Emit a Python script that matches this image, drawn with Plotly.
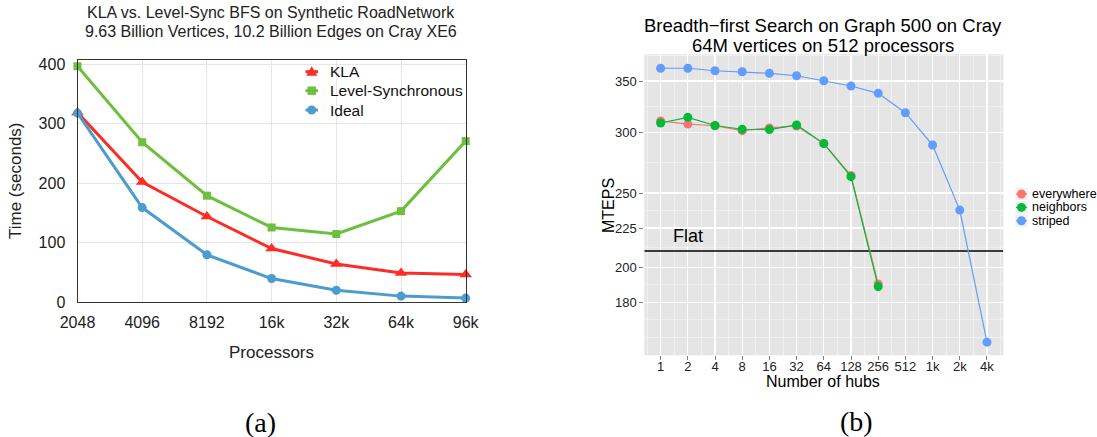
import math
import plotly.graph_objects as go

# ---------------- data: panel (a) ----------------
processors = ["2048", "4096", "8192", "16k", "32k", "64k", "96k"]
kla = [319, 202, 144, 90, 64, 49, 46.5]
level_sync = [397, 269, 179, 125.5, 114.5, 153, 271]
ideal = [318, 159, 79.5, 39.5, 19.8, 9.9, 6.6]
time_ticks = [0, 100, 200, 300, 400]

# ---------------- data: panel (b) ----------------
hubs = ["1", "2", "4", "8", "16", "32", "64", "128", "256", "512", "1k", "2k", "4k"]
everywhere = [310.5, 307.5, 306.0, 301.5, 304.0, 305.8, 290.2, 263.5, 190.2]
neighbors = [308.5, 313.8, 306.2, 302.8, 302.5, 306.7, 290.0, 262.6, 188.7]
striped = [363.7, 363.7, 361.0, 359.9, 358.2, 355.6, 350.3, 344.8, 337.3, 318.2, 288.8, 237.5, 159.7]
mteps_ticks = [180, 200, 225, 250, 300, 350]
flat_level = 210

W, H = 1097, 437
FONT = "Liberation Sans"

def px(x):
    return x / W

def py(y):
    return 1 - y / H

RED, GREEN, BLUE = "#fb2d26", "#6dbf3e", "#4c9ccf"
G_RED, G_GREEN, G_BLUE = "#F8766D", "#00BA38", "#619CFF"

fig = go.Figure()

# ---- panel (a) traces ----
xa = list(range(len(processors)))
series_a = [
    ("KLA", kla, RED, "triangle-up", 11),
    ("Level-Synchronous", level_sync, GREEN, "square", 8),
    ("Ideal", ideal, BLUE, "circle", 9),
]
for name, vals, col, sym, size in series_a:
    fig.add_trace(go.Scatter(x=xa, y=vals, name=name, mode="lines+markers",
                             line=dict(color=col, width=3),
                             marker=dict(symbol=sym, size=size, color=col),
                             showlegend=False, xaxis="x", yaxis="y", cliponaxis=False))

# ---- panel (b) traces ----
xb = list(range(len(hubs)))
fig.add_trace(go.Scatter(x=[-0.6, len(hubs) - 0.4], y=[flat_level, flat_level], mode="lines",
                         line=dict(color="black", width=1.3), showlegend=False,
                         xaxis="x2", yaxis="y2", hoverinfo="skip"))
series_b = [("everywhere", everywhere, G_RED),
            ("neighbors", neighbors, G_GREEN),
            ("striped", striped, G_BLUE)]
for name, vals, col in series_b:
    fig.add_trace(go.Scatter(x=xb[:len(vals)], y=vals, name=name, mode="lines+markers",
                             line=dict(color=col, width=1.2),
                             marker=dict(symbol="circle", size=9, color=col),
                             showlegend=False, xaxis="x2", yaxis="y2"))

# minor grid positions (ggplot style: midpoints in transformed space)
ext = [mteps_ticks[0] ** 2 / mteps_ticks[1]] + mteps_ticks + [mteps_ticks[-1] ** 2 / mteps_ticks[-2]]
minor_y = [ext[0], ext[-1]] + [math.sqrt(ext[i] * ext[i + 1]) for i in range(len(ext) - 1)]
minor_x = [i - 0.5 for i in range(len(hubs) + 1)]

shapes = [
    dict(type="rect", xref="x2 domain", yref="y2 domain", x0=0, x1=1, y0=0, y1=1,
         fillcolor="#E5E5E5", line=dict(width=0), layer="below"),
]


def label(text, x, y, size, color="#222", angle=0, family=FONT, xanchor="center"):
    return dict(text=text, x=px(x), y=py(y), xref="paper", yref="paper", showarrow=False,
                xanchor=xanchor, yanchor="middle", textangle=angle,
                font=dict(family=family, size=size, color=color))


def glyph(kind, cx, cy, half, col):
    base = dict(xref="paper", yref="paper", xsizemode="pixel", ysizemode="pixel",
                xanchor=px(cx), yanchor=py(cy), fillcolor=col, line=dict(width=0))
    if kind == "circle":
        base.update(type="circle", x0=-half, x1=half, y0=-half, y1=half)
    elif kind == "square":
        base.update(type="rect", x0=-half, x1=half, y0=-half, y1=half)
    else:
        base.update(type="path",
                    path=f"M {-half},{-half * 0.75} L {half},{-half * 0.75} L 0,{half} Z")
    return base


annotations = [
    label("KLA vs. Level-Sync BFS on Synthetic RoadNetwork", 271, 12, 16),
    label("9.63 Billion Vertices, 10.2 Billion Edges on Cray XE6", 271, 32, 16),
    label("Time (seconds)", 15, 181, 17, angle=-90),
    label("Processors", 271, 352, 17),
    label("Breadth\u2212first Search on Graph 500 on Cray", 823, 25, 18.5, color="black"),
    label("64M vertices on 512 processors", 823, 45, 18.5, color="black"),
    label("MTEPS", 608, 206, 16, color="black", angle=-90),
    label("Number of hubs", 823, 381, 16, color="black"),
    dict(text="Flat", x=1, y=math.log10(220), xref="x2", yref="y2", showarrow=False,
         xanchor="center", yanchor="middle", font=dict(family=FONT, size=18, color="black")),
    label("(a)", 260, 422, 28, color="black", family="Liberation Serif"),
    label("(b)", 856, 421, 28, color="black", family="Liberation Serif"),
]

# legend for panel (a)
leg_a_y = [71.7, 90.7, 110]
leg_a_kind = ["triangle", "square", "circle"]
leg_a_half = [5.5, 4.2, 4.5]
for (name, vals, col, sym, size), yc, kind, half in zip(series_a, leg_a_y, leg_a_kind, leg_a_half):
    shapes.append(dict(type="line", xref="paper", yref="paper", x0=px(305.5), x1=px(318),
                       y0=py(yc), y1=py(yc), line=dict(color=col, width=3)))
    shapes.append(glyph(kind, 311.7, yc, half, col))
    annotations.append(label(name, 328, yc, 15.5, color="#111", xanchor="left"))

# ggplot-style legend for panel (b)
key_x0, key_x1 = 1015, 1028
row_h = 13.4
row_c = [194, 207.4, 220.8]
for (name, vals, col), yc in zip(series_b, row_c):
    shapes.append(dict(type="rect", xref="paper", yref="paper", x0=px(key_x0), x1=px(key_x1),
                       y0=py(yc + row_h / 2), y1=py(yc - row_h / 2),
                       fillcolor="#F2F2F2", line=dict(color="white", width=0.6)))
    shapes.append(dict(type="line", xref="paper", yref="paper", x0=px(key_x0 + 1), x1=px(key_x1 - 1),
                       y0=py(yc), y1=py(yc), line=dict(color=col, width=1.2)))
    shapes.append(glyph("circle", (key_x0 + key_x1) / 2, yc, 4.5, col))
    annotations.append(label(name, 1030, yc, 12.5, color="black", xanchor="left"))

fig.update_layout(
    width=W, height=H, autosize=False,
    margin=dict(l=0, r=0, t=0, b=0, pad=0),
    paper_bgcolor="white", plot_bgcolor="white",
    font=dict(family=FONT, color="#222"),
    showlegend=False,
    hovermode=False,
    xaxis=dict(domain=[px(77.5), px(465.7)], anchor="y", range=[0, len(processors) - 1],
               automargin=False,
               tickmode="array", tickvals=xa, ticktext=processors,
               showgrid=True, gridcolor="#e6e6e6", gridwidth=1, zeroline=False,
               showline=True, mirror=True, linecolor="#333", linewidth=1,
               ticks="", ticklabelstandoff=6, tickfont=dict(family=FONT, size=16, color="#222")),
    yaxis=dict(domain=[py(302), py(60.3)], anchor="x", range=[0, 407],
               automargin=False,
               tickmode="array", tickvals=time_ticks,
               showgrid=True, gridcolor="#e6e6e6", gridwidth=1, zeroline=False,
               showline=True, mirror=True, linecolor="#333", linewidth=1,
               ticks="", ticklabelstandoff=8, tickfont=dict(family=FONT, size=16, color="#222")),
    xaxis2=dict(domain=[px(644.3), px(1003.3)], anchor="y2", range=[-0.6, len(hubs) - 0.4],
                automargin=False,
                tickmode="array", tickvals=xb, ticktext=hubs,
                showgrid=True, gridcolor="white", gridwidth=1.3, zeroline=False, showline=False,
                ticks="outside", ticklen=4, tickcolor="#7f7f7f", tickwidth=1,
                ticklabelstandoff=-5,
                tickfont=dict(family=FONT, size=13, color="#222"),
                minor=dict(tickmode="array", tickvals=minor_x, showgrid=True,
                           gridcolor="#F2F2F2", gridwidth=0.8, ticks="")),
    yaxis2=dict(domain=[py(355.3), py(54.3)], anchor="x2", type="log",
                range=[2.18611, 2.57896], automargin=False,
                tickmode="array", tickvals=mteps_ticks, ticktext=[str(v) for v in mteps_ticks],
                showgrid=True, gridcolor="white", gridwidth=1.3, zeroline=False, showline=False,
                ticks="outside", ticklen=4, tickcolor="#7f7f7f", tickwidth=1,
                tickfont=dict(family=FONT, size=13, color="#222"),
                minor=dict(tickmode="array", tickvals=minor_y, showgrid=True,
                           gridcolor="#F2F2F2", gridwidth=0.8, ticks="")),
    shapes=shapes,
    annotations=annotations,
)

fig.write_html("out.html",
               config={"displayModeBar": False, "staticPlot": True},
               post_script="document.body.style.margin='0';document.body.style.padding='0';")
